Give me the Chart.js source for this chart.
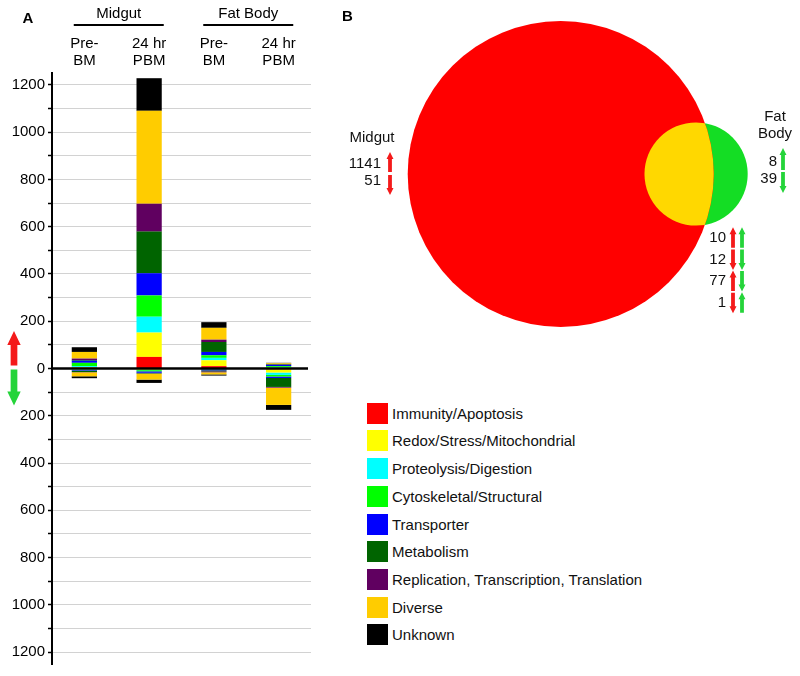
<!DOCTYPE html>
<html>
<head>
<meta charset="utf-8">
<script src="https://cdn.jsdelivr.net/npm/chart.js@4/dist/chart.umd.min.js"></script>
<style>
  html, body { margin: 0; padding: 0; background: #fff; }
  #wrap { position: relative; width: 800px; height: 676px; overflow: hidden; font-family: "Liberation Sans", Arial, sans-serif; }
  #barCanvas { position: absolute; left: 0; top: 0; }
  #vennCanvas { position: absolute; left: 320px; top: 0; }
  .lg-sw { position: absolute; width: 21px; height: 21px; }
  .lg-tx { position: absolute; font-size: 15px; line-height: 21px; color: #111; white-space: nowrap; }
</style>
</head>
<body>
<div id="wrap">
  <canvas id="barCanvas" width="320" height="676"></canvas>
  <canvas id="vennCanvas" width="480" height="340"></canvas>
  <div id="legend"></div>
</div>
<script>
const FONT = '"Liberation Sans", Arial, sans-serif';

const barLabels = [['Pre-', 'BM'], ['24 hr', 'PBM'], ['Pre-', 'BM'], ['24 hr', 'PBM']];
const tissueGroups = ['Midgut', 'Fat Body'];

const functionalClasses = [
  'Immunity/Apoptosis',
  'Redox/Stress/Mitochondrial',
  'Proteolysis/Digestion',
  'Cytoskeletal/Structural',
  'Transporter',
  'Metabolism',
  'Replication, Transcription, Translation',
  'Diverse',
  'Unknown'
];
const classColors = ['#ff0000', '#ffff00', '#00ffff', '#00ff00', '#0000ff', '#006400', '#600060', '#ffcc00', '#000000'];

// gene counts per functional class (same order as functionalClasses)
const midgutPreBM_up   = [3, 3, 4, 14, 9, 3, 6, 28, 20];
const midgut24h_up     = [49, 103, 67, 90, 94, 176, 118, 393, 138];
const fatPreBM_up      = [10, 25, 10, 11, 14, 42, 10, 50, 24];
const fat24h_up        = [1, 2, 3, 4, 5, 2, 2, 3, 2];
const midgutPreBM_down = [1, 2, 2, 2, 3, 5, 1, 17, 8];
const midgut24h_down   = [2, 3, 2, 5, 6, 3, 1, 25, 14];
const fatPreBM_down    = [1, 1, 1, 1, 4, 4, 4, 9, 5];
const fat24h_down      = [3, 14, 10, 7, 6, 38, 3, 73, 21];

const yLimit = 1250;
const yTickMax = 1200;
const yTickStep = 100;
const yLabelStep = 200;

// Venn counts
const midgutOnlyCounts = [1141, 51];   // up, down
const fatBodyOnlyCounts = [8, 39];     // up, down
const sharedCounts = [10, 12, 77, 1];
const sharedMidgutDir = ['up', 'down', 'up', 'down'];
const sharedFatDir = ['up', 'down', 'down', 'up'];

// ---------------- PANEL A ----------------
const upBars = [midgutPreBM_up, midgut24h_up, fatPreBM_up, fat24h_up];
const downBars = [midgutPreBM_down, midgut24h_down, fatPreBM_down, fat24h_down];

const datasets = [];
functionalClasses.forEach((name, i) => {
  datasets.push({ label: name, data: upBars.map(b => b[i]), backgroundColor: classColors[i], stack: 's' });
});
functionalClasses.forEach((name, i) => {
  datasets.push({ label: name + ' (down)', data: downBars.map(b => -b[i]), backgroundColor: classColors[i], stack: 's' });
});

function drawArrow(ctx, cx, yTail, yTip, shaftW, headW, headH, color) {
  const s = yTip < yTail ? 1 : -1;
  const yh = yTip + s * headH;
  ctx.beginPath();
  ctx.moveTo(cx, yTip);
  ctx.lineTo(cx + headW / 2, yh);
  ctx.lineTo(cx + shaftW / 2, yh);
  ctx.lineTo(cx + shaftW / 2, yTail);
  ctx.lineTo(cx - shaftW / 2, yTail);
  ctx.lineTo(cx - shaftW / 2, yh);
  ctx.lineTo(cx - headW / 2, yh);
  ctx.closePath();
  ctx.fillStyle = color;
  ctx.fill();
}

const panelADecor = {
  id: 'panelADecor',
  afterDatasetsDraw(chart) {
    const ctx = chart.ctx;
    const y = chart.scales.y;
    const a = chart.chartArea;
    const y0 = y.getPixelForValue(0);
    ctx.save();
    ctx.strokeStyle = '#000';
    ctx.lineWidth = 2.5;
    ctx.beginPath();
    ctx.moveTo(a.left, y0);
    ctx.lineTo(a.right - 3, y0);
    ctx.stroke();
    ctx.restore();
  },
  afterDraw(chart) {
    const ctx = chart.ctx;
    const x = chart.scales.x;
    const y = chart.scales.y;
    const y0 = y.getPixelForValue(0);
    ctx.save();
    ctx.fillStyle = '#000';
    ctx.textAlign = 'center';
    ctx.textBaseline = 'middle';
    ctx.font = 'bold 15px ' + FONT;
    ctx.fillText('A', 28, 19);
    ctx.font = '15px ' + FONT;
    tissueGroups.forEach((g, gi) => {
      const x1 = x.getPixelForValue(gi * 2);
      const x2 = x.getPixelForValue(gi * 2 + 1);
      const mid = (x1 + x2) / 2 + 2;
      ctx.fillText(g, mid, 14);
      ctx.strokeStyle = '#000';
      ctx.lineWidth = 2;
      ctx.beginPath();
      ctx.moveTo(mid - 45, 25);
      ctx.lineTo(mid + 45, 25);
      ctx.stroke();
    });
    drawArrow(ctx, 14, y0 - 3, y0 - 37.5, 6.7, 13.4, 14, '#f41a1a');
    drawArrow(ctx, 14, y0 + 1, y0 + 37, 6.7, 13.4, 14, '#25d43a');
    ctx.restore();
  }
};

new Chart(document.getElementById('barCanvas'), {
  type: 'bar',
  data: { labels: barLabels, datasets },
  options: {
    responsive: false,
    animation: false,
    events: [],
    devicePixelRatio: 1,
    layout: { padding: { left: 0, right: 9, top: 0, bottom: 9 } },
    plugins: { legend: { display: false }, tooltip: { enabled: false } },
    datasets: { bar: { barPercentage: 0.39, categoryPercentage: 1, borderWidth: 0 } },
    scales: {
      x: {
        position: 'top',
        stacked: true,
        grid: { display: false },
        border: { display: false },
        ticks: { color: '#000', font: { family: FONT, size: 15, lineHeight: '17px' }, padding: -4, maxRotation: 0, autoSkip: false },
        afterFit: s => { s.height = 73; }
      },
      y: {
        stacked: true,
        min: -yLimit,
        max: yLimit,
        afterBuildTicks: s => {
          const t = [];
          for (let v = -yTickMax; v <= yTickMax; v += yTickStep) t.push({ value: v });
          s.ticks = t;
        },
        ticks: {
          autoSkip: false,
          color: '#000',
          padding: 3,
          font: { family: FONT, size: 15 },
          callback: function (v) { return (Math.round(v) % yLabelStep === 0) ? String(Math.abs(Math.round(v))) : ''; }
        },
        grid: {
          color: c => (c.tick && c.tick.value !== 0 ? '#d2d2d2' : 'rgba(0,0,0,0)'),
          lineWidth: 1,
          tickColor: '#000',
          tickLength: 4,
          tickWidth: 1.5
        },
        border: { display: true, color: '#000', width: 2 },
        afterFit: s => { s.width = 52; }
      }
    }
  },
  plugins: [panelADecor]
});

// ---------------- PANEL B (Venn) ----------------
const sharedTotal = sharedCounts.reduce((p, c) => p + c, 0);
const midgutTotal = midgutOnlyCounts[0] + midgutOnlyCounts[1] + sharedTotal;
const fatTotal = fatBodyOnlyCounts[0] + fatBodyOnlyCounts[1] + sharedTotal;

const VENN_PX = 4.2566;        // px per sqrt(count)
const VENN_CX = 240.7, VENN_CY = 174;
const rBig = VENN_PX * Math.sqrt(midgutTotal);
const rSmall = VENN_PX * Math.sqrt(fatTotal);

function clamp1(v) { return Math.max(-1, Math.min(1, v)); }
function lensArea(d, r1, r2) {
  const a = r1 * r1 * Math.acos(clamp1((d * d + r1 * r1 - r2 * r2) / (2 * d * r1)));
  const b = r2 * r2 * Math.acos(clamp1((d * d + r2 * r2 - r1 * r1) / (2 * d * r2)));
  const q = (-d + r1 + r2) * (d + r1 - r2) * (d - r1 + r2) * (d + r1 + r2);
  return a + b - 0.5 * Math.sqrt(Math.max(0, q));
}
const targetLens = Math.PI * VENN_PX * VENN_PX * sharedTotal;
let lo = rBig - rSmall + 0.01, hi = rBig + rSmall - 0.01;
for (let k = 0; k < 60; k++) {
  const m = (lo + hi) / 2;
  if (lensArea(m, rBig, rSmall) > targetLens) lo = m; else hi = m;
}
const vennDist = (lo + hi) / 2;

const vennDecor = {
  id: 'vennDecor',
  afterDatasetsDraw(chart) {
    const ctx = chart.ctx;
    const big = chart.getDatasetMeta(0).data[0];
    const small = chart.getDatasetMeta(1).data[0];
    ctx.save();
    ctx.beginPath();
    ctx.arc(big.x, big.y, big.options.radius, 0, Math.PI * 2);
    ctx.clip();
    ctx.beginPath();
    ctx.arc(small.x, small.y, small.options.radius, 0, Math.PI * 2);
    ctx.fillStyle = '#ffd800';
    ctx.fill();
    ctx.restore();
  },
  afterDraw(chart) {
    const ctx = chart.ctx;
    const RED = '#f41a1a', GREEN = '#25d43a';
    const ox = -320;
    ctx.save();
    ctx.fillStyle = '#000';
    ctx.textBaseline = 'middle';
    ctx.font = 'bold 15px ' + FONT;
    ctx.textAlign = 'center';
    ctx.fillText('B', 347.5 + ox, 17);
    ctx.font = '15px ' + FONT;
    ctx.fillStyle = '#111';
    ctx.fillText(tissueGroups[0], 372 + ox, 138);
    ctx.fillText('Fat', 775 + ox, 117);
    ctx.fillText('Body', 775 + ox, 134);
    ctx.textAlign = 'right';
    ctx.fillText(String(midgutOnlyCounts[0]), 381 + ox, 164);
    ctx.fillText(String(midgutOnlyCounts[1]), 381 + ox, 181);
    drawArrow(ctx, 390 + ox, 172, 152, 3.8, 7, 7, RED);
    drawArrow(ctx, 390 + ox, 175, 195, 3.8, 7, 7, RED);
    ctx.fillStyle = '#111';
    ctx.fillText(String(fatBodyOnlyCounts[0]), 777 + ox, 162);
    ctx.fillText(String(fatBodyOnlyCounts[1]), 777 + ox, 179);
    drawArrow(ctx, 783 + ox, 170, 148, 3.8, 7, 7, GREEN);
    drawArrow(ctx, 783 + ox, 172, 193, 3.8, 7, 7, GREEN);
    sharedCounts.forEach((n, i) => {
      const yc = 237.7 + i * 21.7;
      ctx.fillStyle = '#111';
      ctx.textAlign = 'right';
      ctx.fillText(String(n), 726 + ox, yc);
      const md = sharedMidgutDir[i], fd = sharedFatDir[i];
      drawArrow(ctx, 733 + ox, md === 'up' ? yc + 10 : yc - 10, md === 'up' ? yc - 10.5 : yc + 10.5, 3.8, 7, 7, RED);
      drawArrow(ctx, 742 + ox, fd === 'up' ? yc + 10 : yc - 10, fd === 'up' ? yc - 10.5 : yc + 10.5, 3.8, 7, 7, GREEN);
    });
    ctx.restore();
  }
};

new Chart(document.getElementById('vennCanvas'), {
  type: 'bubble',
  data: {
    datasets: [
      { label: tissueGroups[0], data: [{ x: VENN_CX, y: VENN_CY, r: rBig }], backgroundColor: '#ff0000', borderWidth: 0, clip: false },
      { label: tissueGroups[1], data: [{ x: VENN_CX + vennDist, y: VENN_CY, r: rSmall }], backgroundColor: '#14dd24', borderWidth: 0, clip: false }
    ]
  },
  options: {
    responsive: false,
    animation: false,
    events: [],
    devicePixelRatio: 1,
    layout: { padding: 0, autoPadding: false },
    plugins: { legend: { display: false }, tooltip: { enabled: false } },
    scales: {
      x: { type: 'linear', display: false, min: 0, max: 480 },
      y: { type: 'linear', display: false, min: 0, max: 340, reverse: true }
    }
  },
  plugins: [vennDecor]
});

// ---------------- LEGEND ----------------
const legendEl = document.getElementById('legend');
functionalClasses.forEach((name, i) => {
  const top = 402.7 + i * 27.7;
  const sw = document.createElement('div');
  sw.className = 'lg-sw';
  sw.style.left = '367px';
  sw.style.top = top + 'px';
  sw.style.background = classColors[i];
  legendEl.appendChild(sw);
  const tx = document.createElement('div');
  tx.className = 'lg-tx';
  tx.style.left = '392px';
  tx.style.top = top + 'px';
  tx.textContent = name;
  legendEl.appendChild(tx);
});
</script>
</body>
</html>
